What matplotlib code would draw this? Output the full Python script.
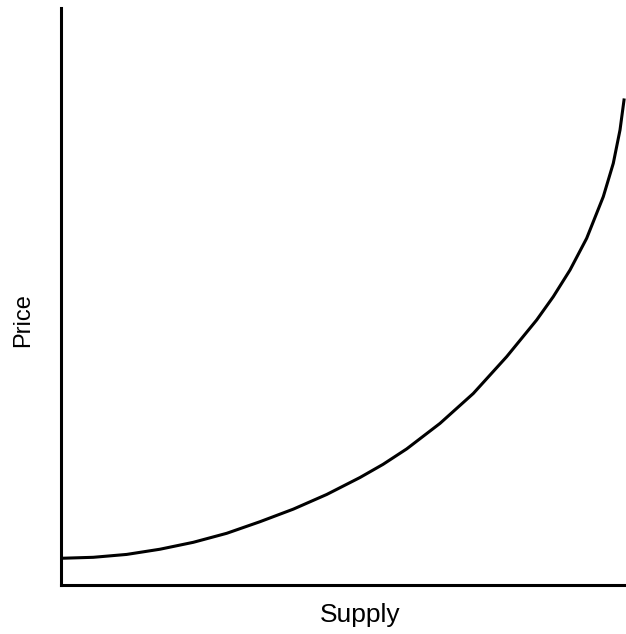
import matplotlib
matplotlib.use("Agg")
import matplotlib.pyplot as plt

plt.rcParams['font.family'] = ['Liberation Sans', 'DejaVu Sans']

# supply curve (x = supply, y = price, 0..100 scale)
supply = [0, 5.72, 11.63, 17.52, 23.42, 29.33, 35.22, 41.12, 47.03, 52.92,
          57.0, 61.19, 67.08, 72.97, 78.88, 84.19, 87.13, 90.09, 93.04, 95.98,
          97.75, 98.94, 99.65]
price = [4.63, 4.80, 5.30, 6.20, 7.40, 8.96, 10.97, 13.15, 15.69, 18.63,
         20.91, 23.59, 28.01, 33.19, 39.57, 45.93, 49.97, 54.59, 60.09, 67.30,
         73.08, 78.86, 84.06]

W, H = 626, 634
fig = plt.figure(figsize=(W / 100, H / 100), dpi=100)
ax = fig.add_axes([61 / W, 1 - 585 / H, 1 - 61 / W, (585 - 8) / H])

ax.plot(supply, price, color='black', lw=2.2, solid_joinstyle='round')
ax.set_xlim(0, 100)
ax.set_ylim(0, 100)

for s in ['top', 'right']:
    ax.spines[s].set_visible(False)
for s in ['left', 'bottom']:
    ax.spines[s].set_linewidth(2.2)
ax.set_xticks([])
ax.set_yticks([])

fig.text(360 / W, 1 - 622 / H, 'Supply', fontsize=19, ha='center', va='baseline')
fig.text(23 / W, 1 - 320 / H, 'Price', fontsize=17, ha='center', va='center', rotation=90)

fig.savefig('out.png', dpi=100)
